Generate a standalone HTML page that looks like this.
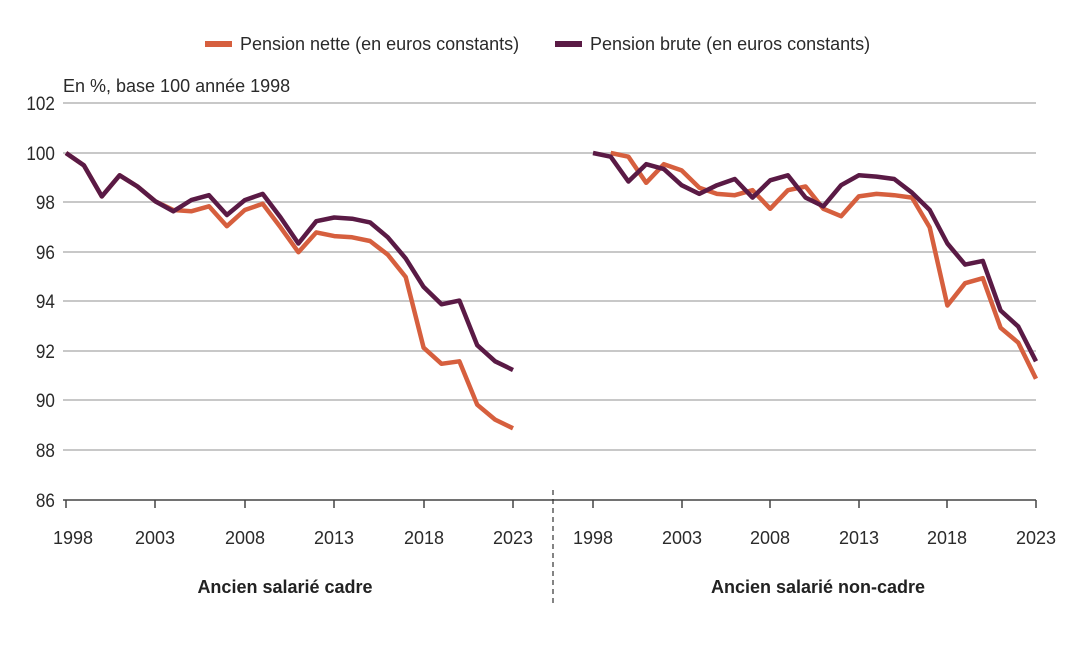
<!DOCTYPE html>
<html><head><meta charset="utf-8"><style>
body{margin:0;background:#fff;}
svg text{font-family:"Liberation Sans",sans-serif;fill:#2a2a2a;}
</style></head><body>
<svg width="1090" height="648" xmlns="http://www.w3.org/2000/svg">
<rect width="1090" height="648" fill="#fff"/>
<g stroke="#c8c8c8" stroke-width="2">
<line x1="63" y1="103" x2="1036" y2="103"/>
<line x1="63" y1="153" x2="1036" y2="153"/>
<line x1="63" y1="202" x2="1036" y2="202"/>
<line x1="63" y1="252" x2="1036" y2="252"/>
<line x1="63" y1="301" x2="1036" y2="301"/>
<line x1="63" y1="351" x2="1036" y2="351"/>
<line x1="63" y1="400" x2="1036" y2="400"/>
<line x1="63" y1="450" x2="1036" y2="450"/>
</g>
<line x1="63" y1="500" x2="1036" y2="500" stroke="#444" stroke-width="1.5"/>
<g stroke="#444" stroke-width="1.5">
<line x1="66" y1="500" x2="66" y2="508"/><line x1="155" y1="500" x2="155" y2="508"/><line x1="245" y1="500" x2="245" y2="508"/><line x1="334" y1="500" x2="334" y2="508"/><line x1="424" y1="500" x2="424" y2="508"/><line x1="513" y1="500" x2="513" y2="508"/>
<line x1="593" y1="500" x2="593" y2="508"/><line x1="682" y1="500" x2="682" y2="508"/><line x1="770" y1="500" x2="770" y2="508"/><line x1="859" y1="500" x2="859" y2="508"/><line x1="947" y1="500" x2="947" y2="508"/><line x1="1036" y1="500" x2="1036" y2="508"/>
</g>
<line x1="553" y1="490" x2="553" y2="605" stroke="#333" stroke-width="1.2" stroke-dasharray="5,4"/>
<g font-size="19" text-anchor="end" transform="scale(0.9,1)">
<text x="61" y="110">102</text><text x="61" y="160">100</text><text x="61" y="209">98</text><text x="61" y="259">96</text><text x="61" y="308">94</text><text x="61" y="358">92</text><text x="61" y="407">90</text><text x="61" y="457">88</text><text x="61" y="507">86</text>
</g>
<g font-size="18" text-anchor="middle">
<text x="73" y="544">1998</text><text x="155" y="544">2003</text><text x="245" y="544">2008</text><text x="334" y="544">2013</text><text x="424" y="544">2018</text><text x="513" y="544">2023</text>
<text x="593" y="544">1998</text><text x="682" y="544">2003</text><text x="770" y="544">2008</text><text x="859" y="544">2013</text><text x="947" y="544">2018</text><text x="1036" y="544">2023</text>
<text x="285" y="593" font-weight="bold" style="fill:#222">Ancien salarié cadre</text>
<text x="818" y="593" font-weight="bold" style="fill:#222">Ancien salarié non-cadre</text>
</g>
<text x="63" y="92" font-size="18">En %, base 100 année 1998</text>
<line x1="205" y1="44" x2="232" y2="44" stroke="#d65f3e" stroke-width="6"/>
<text x="240" y="50" font-size="18">Pension nette (en euros constants)</text>
<line x1="555" y1="44" x2="582" y2="44" stroke="#5a1a45" stroke-width="6"/>
<text x="590" y="50" font-size="18">Pension brute (en euros constants)</text>
<g id="lines" fill="none" stroke-width="4.5" stroke-linejoin="round"></g>
</svg>
<script>
var g=document.getElementById('lines');
function yv(v){return 153+(100-v)*24.8;}
function line(x0,dx,startYear,vals,col){
 var p=vals.map(function(v,i){return (x0+(startYear-1998+i)*dx).toFixed(1)+','+yv(v).toFixed(1);}).join(' ');
 var e=document.createElementNS('http://www.w3.org/2000/svg','polyline');
 e.setAttribute('points',p);e.setAttribute('stroke',col);g.appendChild(e);
}
line(66,17.88,1998,[100,99.5,98.25,99.1,98.65,98.05,97.7,97.65,97.85,97.05,97.7,97.95,97.0,96.0,96.8,96.65,96.6,96.45,95.9,95.0,92.15,91.5,91.6,89.85,89.25,88.9],'#d65f3e');
line(66,17.88,1998,[100,99.5,98.25,99.1,98.65,98.05,97.65,98.1,98.3,97.5,98.1,98.35,97.4,96.35,97.25,97.4,97.35,97.2,96.6,95.75,94.6,93.9,94.05,92.25,91.6,91.25],'#5a1a45');
line(593,17.72,1999,[100,99.85,98.8,99.55,99.3,98.6,98.35,98.3,98.5,97.75,98.5,98.65,97.75,97.45,98.25,98.35,98.3,98.2,97.0,93.85,94.75,94.95,92.95,92.35,90.9],'#d65f3e');
line(593,17.72,1998,[100,99.85,98.85,99.55,99.35,98.7,98.35,98.7,98.95,98.2,98.9,99.1,98.2,97.85,98.7,99.1,99.05,98.95,98.4,97.7,96.35,95.5,95.65,93.65,93.0,91.6],'#5a1a45');
</script>
</body></html>
